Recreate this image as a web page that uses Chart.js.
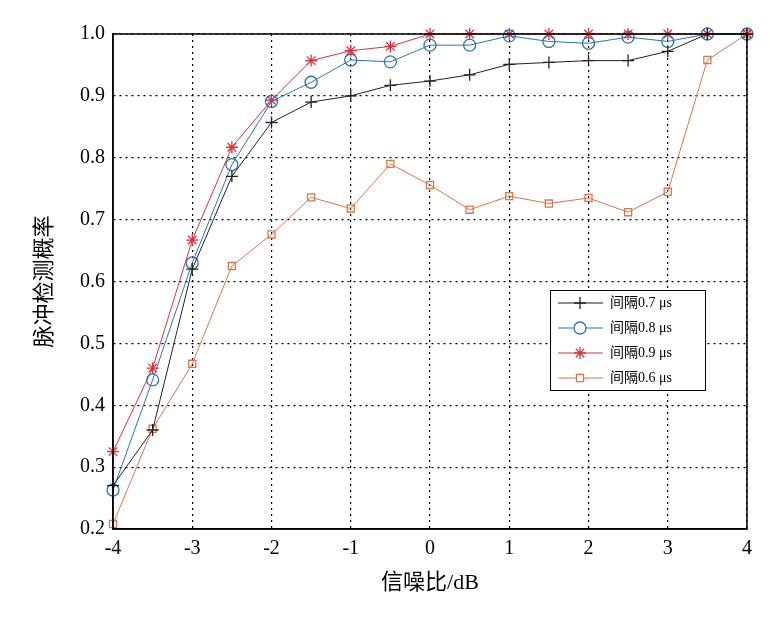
<!DOCTYPE html>
<html><head><meta charset="utf-8">
<script src="https://cdn.jsdelivr.net/npm/chart.js@4"></script>
<style>body{margin:0;background:#fff}#wrap{width:770px;height:618px}</style>
</head><body><div id="wrap"><canvas id="c"></canvas></div>
<script>
const xs = [-4,-3.5,-3,-2.5,-2,-1.5,-1,-0.5,0,0.5,1,1.5,2,2.5,3,3.5,4]
const s07 = [0.27,0.36,0.62,0.77,0.857,0.89,0.90,0.917,0.924,0.934,0.951,0.954,0.957,0.957,0.972,1.0,1.0]
const s08 = [0.263,0.441,0.630,0.789,0.891,0.922,0.958,0.955,0.982,0.982,0.997,0.988,0.985,0.995,0.988,1.0,1.0]
const s09 = [0.325,0.46,0.667,0.817,0.893,0.957,0.973,0.98,1.0,1.0,1.0,1.0,1.0,1.0,1.0,1.0,1.0]
const s06 = [0.208,0.362,0.467,0.625,0.676,0.736,0.718,0.79,0.756,0.716,0.738,0.726,0.735,0.712,0.745,0.958,1.0]
const names = ['间隔0.7 μs','间隔0.8 μs','间隔0.9 μs','间隔0.6 μs']
const colors = ['#222222','#2b72b8','#e0303a','#d9774a']
const styles = ['cross','circle','star','rect']
const radii = [6,6,6,5]
const series = [s07,s08,s09,s06]

const ds = series.map((s,i)=>({
  label:names[i],
  data:s.map((v,j)=>({x:xs[j],y:v})),
  borderColor:colors[i],backgroundColor:'transparent',
  pointBorderColor:colors[i],pointStyle:styles[i],pointRadius:radii[i],
  pointBorderWidth:1.3,borderWidth:1,tension:0,clip:false
}))

const legendBox = {
  id:'legendBox',
  afterDraw(chart){
    const ctx=chart.ctx
    ctx.save()
    ctx.fillStyle='#fff';ctx.fillRect(550,290,155,100)
    ctx.strokeStyle='#000';ctx.lineWidth=1;ctx.strokeRect(550.5,290.5,155,100)
    ds.forEach((d,i)=>{
      const y=303+i*25
      ctx.strokeStyle=colors[i];ctx.lineWidth=1;ctx.beginPath();ctx.moveTo(558,y);ctx.lineTo(603,y);ctx.stroke()
      ctx.fillStyle='#fff';ctx.strokeStyle=colors[i];ctx.lineWidth=1.3
      Chart.helpers.drawPoint(ctx,{pointStyle:styles[i],radius:radii[i],borderWidth:1.3},580,y)
      ctx.fillStyle='#000';ctx.font='14px "Liberation Serif", "Noto Sans CJK SC"';ctx.textBaseline='middle'
      ctx.fillText(names[i],610,y)
    })
    ctx.restore()
  }
}

const grid = {color:'#000',lineWidth:1.2,drawTicks:false}
new Chart(document.getElementById('c'),{
  type:'line',
  data:{datasets:ds},
  options:{
    responsive:true,maintainAspectRatio:false,animation:false,
    layout:{padding:{left:28,right:23,top:34,bottom:18}},
    plugins:{legend:{display:false},tooltip:{enabled:false}},
    scales:{
      x:{type:'linear',min:-4,max:4,
        ticks:{stepSize:1,color:'#000',padding:8,font:{size:20,family:'"Liberation Serif"'}},
        grid:grid,border:{color:'#000',width:1.5,dash:[2,4]},
        title:{display:true,text:'信噪比/dB',color:'#000',font:{size:22,family:'"Liberation Serif", "Noto Sans CJK SC"'}},
        afterFit(s){s.height=71}},
      y:{min:0.2,max:1.0,
        ticks:{stepSize:0.1,color:'#000',padding:8,font:{size:20,family:'"Liberation Serif"'},callback:v=>v.toFixed(1)},
        grid:grid,border:{color:'#000',width:1.5,dash:[2,4]},
        title:{display:true,text:'脉冲检测概率',color:'#000',font:{size:22,family:'"Liberation Serif", "Noto Sans CJK SC"'}},
        afterFit(s){s.width=85}}
    }
  },
  plugins:[legendBox,{id:'frame',afterDatasetsDraw(c){const a=c.chartArea,x=c.ctx;x.save();x.strokeStyle='#000';x.lineWidth=1.5;x.strokeRect(a.left,a.top,a.right-a.left,a.bottom-a.top);x.restore()}}]
})
</script></body></html>
